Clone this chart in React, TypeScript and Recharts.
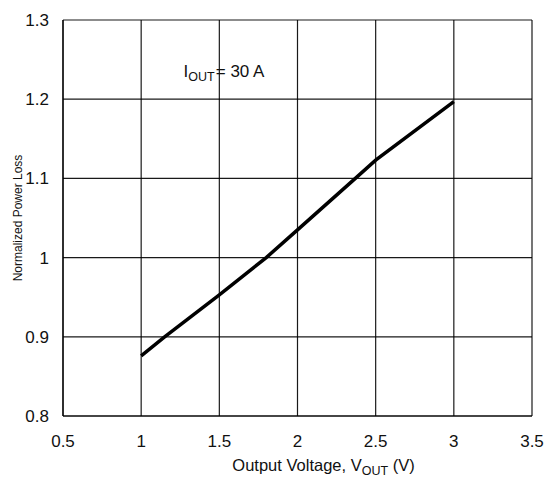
import React from 'react';
import { LineChart, Line, XAxis, YAxis, CartesianGrid, ReferenceDot } from 'recharts';

const vout = [1.0, 1.15, 1.5, 1.8, 2.0, 2.37, 2.5, 3.0];
const loss = [0.876, 0.9, 0.953, 1.0, 1.035, 1.1, 1.123, 1.197];
const xTicks = [0.5, 1, 1.5, 2, 2.5, 3, 3.5];
const yTicks = [0.8, 0.9, 1, 1.1, 1.2, 1.3];
const annotation = { x: 1.53, y: 1.235 };

const data = vout.map((v, i) => ({ v, p: loss[i] }));
const FONT = '"Liberation Sans", Arial, Helvetica, sans-serif';

const fmt = (t: number) => String(t);

const AnnotationLabel = (props: any) => {
  const vb = props.viewBox || {};
  const cx = vb.x + (vb.width || 0) / 2;
  const cy = vb.y + (vb.height || 0) / 2;
  return (
    <text x={cx} y={cy + 6} textAnchor="middle" fontFamily={FONT} fontSize={17} fill="#111">
      <tspan>I</tspan>
      <tspan fontSize={12.5} dy={4}>OUT</tspan>
      <tspan dy={-4} dx={1}>= 30 A</tspan>
    </text>
  );
};

const XLabel = (props: any) => {
  const vb = props.viewBox || {};
  const cx = vb.x + vb.width / 2 + 26;
  return (
    <text x={cx} y={471} textAnchor="middle" fontFamily={FONT} fontSize={16.5} fill="#111">
      <tspan>Output Voltage, V</tspan>
      <tspan fontSize={12.5} dy={4}>OUT</tspan>
      <tspan dy={-4}> (V)</tspan>
    </text>
  );
};

const YLabel = (props: any) => {
  const vb = props.viewBox || {};
  const cy = vb.y + vb.height / 2;
  return (
    <text
      x={22}
      y={cy}
      textAnchor="middle"
      fontFamily={FONT}
      fontSize={12}
      fill="#111"
      transform={`rotate(-90, 22, ${cy})`}
    >
      Normalized Power Loss
    </text>
  );
};

export default function App() {
  return (
    <div style={{ position: 'absolute', left: 0, top: 0, background: '#fff' }}>
      <LineChart width={550} height={477} data={data} margin={{ top: 20, right: 18, bottom: 31, left: 0 }}>
        <CartesianGrid stroke="#000" strokeWidth={1.2} strokeOpacity={0.9} />
        <XAxis
          dataKey="v"
          type="number"
          domain={[0.5, 3.5]}
          ticks={xTicks}
          tickFormatter={fmt}
          tickLine={false}
          axisLine={{ stroke: '#000', strokeWidth: 1.2 }}
          height={30}
          tickMargin={13}
          tick={{ fontFamily: FONT, fontSize: 17, fill: '#111' }}
          interval={0}
          label={<XLabel />}
        />
        <YAxis
          type="number"
          domain={[0.8, 1.3]}
          ticks={yTicks}
          tickFormatter={fmt}
          tickLine={false}
          axisLine={{ stroke: '#000', strokeWidth: 1.2 }}
          width={63}
          tickMargin={8}
          tick={{ fontFamily: FONT, fontSize: 17, fill: '#111' }}
          interval={0}
          label={<YLabel />}
        />
        <ReferenceDot x={annotation.x} y={annotation.y} r={0} fill="none" stroke="none" label={<AnnotationLabel />} />
        <Line
          type="linear"
          dataKey="p"
          stroke="#000"
          strokeWidth={3.5}
          dot={false}
          isAnimationActive={false}
        />
      </LineChart>
    </div>
  );
}
